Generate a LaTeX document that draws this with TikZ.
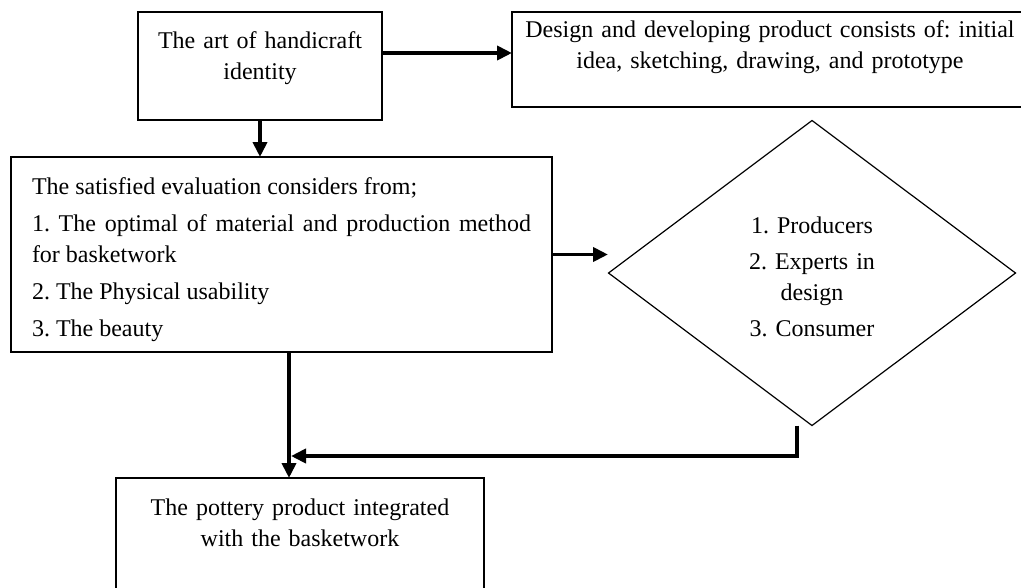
\documentclass[tikz,border=0pt]{standalone}
\usepackage{fontspec}
\setmainfont{Liberation Serif}
\usepackage{tikz}
\usetikzlibrary{shapes.geometric}
\usetikzlibrary{arrows.meta}
\hyphenpenalty=10000
\exhyphenpenalty=10000
\frenchspacing

\begin{document}
\begin{tikzpicture}[x=1pt,y=-1pt,
              every node/.style={font=\fontsize{24}{31}\selectfont},
              box/.style={draw,line width=1.8pt,rectangle,anchor=north west,
                          inner sep=0pt,outer sep=0pt,align=center},
              flow/.style={line width=3.8pt,-{Triangle[length=15pt,width=14pt]}}]
  \useasboundingbox (0,0) rectangle (1021,587);
  \node[box,text width=244pt,text height=36pt,text depth=72pt] (art) at (138,12)
    {The art of handicraft\\identity};
  \node[box,text width=516pt,text height=25pt,text depth=70pt] (dev) at (512,12)
    {Design and developing product consists of: initial\\idea, sketching, drawing, and prototype};
  \node[box,align=justify,inner xsep=21pt,text width=499pt,text height=37pt,text depth=158pt] (eval) at (11,157)
    {The satisfied evaluation considers from;\\[6pt]
     1. The optimal of material and production method\linebreak for basketwork\\[6pt]
     2. The Physical usability\\[6pt]
     3. The beauty};
  \node[draw,diamond,line width=1.2pt,inner sep=0pt,outer sep=0pt,
        minimum width=407pt,minimum height=305pt,
        text width=160pt,align=center,text height=22pt,text depth=102pt] (judge) at (812,273)
    {1. Producers\\[5pt]2. Experts in\\design\\[5pt]3. Consumer};
  \node[box,text width=368pt,text height=37pt,text depth=85pt] (pot) at (116,478)
    {The pottery product integrated\\with the basketwork};
  % connectors
  \coordinate (artout) at ([yshift=13pt]art.east);
  \coordinate (tip) at (608,254);
  \coordinate (join) at (289,456);
  \coordinate (turn) at (797,456);
  \draw[flow] (artout) -- (artout -| dev.west);
  \draw[flow] (art.south) -- (art.south |- eval.north);
  \draw[flow] (eval.east) -- (eval.east -| tip);
  \draw[flow] (join |- eval.south) -- (join |- pot.north);
  \draw[flow,shorten >=2pt] (turn |- judge.south) -- (turn) -- (join);
\end{tikzpicture}
\end{document}
